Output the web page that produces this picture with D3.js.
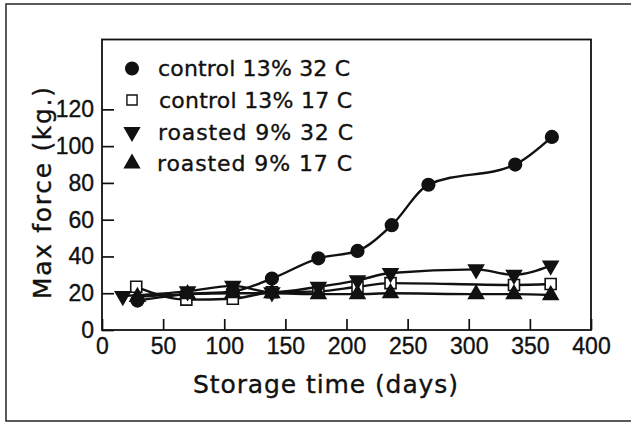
<!DOCTYPE html>
<html>
<head>
<meta charset="utf-8">
<script src="https://cdn.jsdelivr.net/npm/d3@7"></script>
<style>
  html, body { margin: 0; padding: 0; background: #fff; }
  svg { display: block; }
  text { font-family: "DejaVu Sans", sans-serif; fill: #111; stroke: #111; stroke-width: 0.35px; }
</style>
</head>
<body>
<svg id="chart" width="631" height="423"></svg>
<script>
// Storage time (days) at which each sample series was measured
const daysControl32 = [29, 69, 107, 139, 177, 209, 237, 267, 338, 368];
const daysControl17 = [28, 69, 107, 139, 177, 209, 236, 337, 367];
const daysRoasted32 = [17, 70, 107, 139, 177, 209, 236, 306, 337, 367];
const daysRoasted17 = [29, 70, 107, 139, 177, 209, 236, 306, 337, 367];

// Max force (kg.) for each series
const control32 = [16, 19.5, 21, 28, 39, 43, 57, 79, 90, 105];
const control17 = [23.5, 16.5, 17, 20.5, 21, 23.5, 25.5, 24.5, 25];
const roasted32 = [18.5, 21, 24, 20.5, 23.5, 27, 31, 33, 30, 35];
const roasted17 = [18, 19.5, 20, 20, 19.5, 19.5, 20, 19.5, 19.5, 19];

const seriesNames = ["control 13% 32 C", "control 13% 17 C", "roasted 9% 32 C", "roasted 9% 17 C"];

const xTicks = [0, 50, 100, 150, 200, 250, 300, 350, 400];
const yTicks = [0, 20, 40, 60, 80, 100, 120];

const svg = d3.select("#chart");

// outer border of the figure
svg.append("rect")
  .attr("x", 6).attr("y", 4)
  .attr("width", 640).attr("height", 417)
  .attr("fill", "none").attr("stroke", "#333").attr("stroke-width", 1.6);

const plotLeft = 102, plotRight = 591, plotTop = 39.5, plotBottom = 330;

const x = d3.scaleLinear().domain([0, 400]).range([plotLeft, plotRight]);
const y = d3.scaleLinear().domain([0, 158]).range([plotBottom, plotTop]);

// axes with inward ticks
const xAxis = svg.append("g")
  .attr("transform", `translate(0,${plotBottom})`)
  .call(d3.axisBottom(x).tickValues(xTicks).tickSize(-11).tickPadding(8).tickFormat(d3.format("d")));
const yAxis = svg.append("g")
  .attr("transform", `translate(${plotLeft},0)`)
  .call(d3.axisLeft(y).tickValues(yTicks).tickSize(-12).tickPadding(8).tickFormat(d3.format("d")));

[xAxis, yAxis].forEach(g => {
  g.select(".domain").remove();
  g.selectAll(".tick line").attr("stroke", "#111").attr("stroke-width", 1.7);
  g.selectAll(".tick text")
    .style("font-family", "'Liberation Sans', Arial, sans-serif")
    .style("font-size", "23px")
    .attr("fill", "#111")
    .attr("stroke", "#111").attr("stroke-width", 0.45);
});

// plot frame
svg.append("rect")
  .attr("x", plotLeft).attr("y", plotTop)
  .attr("width", plotRight - plotLeft).attr("height", plotBottom - plotTop)
  .attr("fill", "none").attr("stroke", "#111").attr("stroke-width", 1.8);

// axis titles
svg.append("text")
  .attr("x", 193).attr("y", 393)
  .attr("textLength", 265).attr("lengthAdjust", "spacing")
  .style("font-size", "25px")
  .text("Storage time (days)");

svg.append("text")
  .attr("transform", "translate(51,299) rotate(-90)")
  .attr("x", 0).attr("y", 0)
  .attr("textLength", 212).attr("lengthAdjust", "spacing")
  .style("font-size", "25px")
  .text("Max force (kg.)");

const series = [
  { days: daysControl32, vals: control32, sym: d3.symbolCircle, size: 125, fill: "#111", rot: 0 },
  { days: daysControl17, vals: control17, sym: d3.symbolSquare, size: 121, fill: "#fff", rot: 0 },
  { days: daysRoasted32, vals: roasted32, sym: d3.symbolTriangle, size: 95, fill: "#111", rot: 180 },
  { days: daysRoasted17, vals: roasted17, sym: d3.symbolTriangle, size: 95, fill: "#111", rot: 0 }
];

const line = d3.line()
  .x(d => x(d[0]))
  .y(d => y(d[1]))
  .curve(d3.curveMonotoneX);

series.forEach(s => {
  const pts = s.days.map((d, i) => [d, s.vals[i]]);
  svg.append("path")
    .attr("d", line(pts))
    .attr("fill", "none").attr("stroke", "#111").attr("stroke-width", 2.4);
});

series.forEach(s => {
  const pts = s.days.map((d, i) => [d, s.vals[i]]);
  svg.append("g").selectAll("path")
    .data(pts)
    .join("path")
    .attr("d", d3.symbol().type(s.sym).size(s.size))
    .attr("transform", d => `translate(${x(d[0])},${y(d[1])}) rotate(${s.rot})`)
    .attr("fill", s.fill).attr("stroke", "#111").attr("stroke-width", 1.6);
});

// legend
const legendY = [68.5, 100, 132, 163.5];
const legendTextLen = [192, 193, 195, 195];
const legendTextX = [158, 159, 158, 157];
series.forEach((s, i) => {
  svg.append("path")
    .attr("d", d3.symbol().type(s.sym).size(s.size * (i === 1 ? 0.85 : 1))())
    .attr("transform", `translate(132,${legendY[i]}) rotate(${s.rot})`)
    .attr("fill", s.fill).attr("stroke", "#111").attr("stroke-width", 1.4);
  svg.append("text")
    .attr("x", legendTextX[i]).attr("y", legendY[i] + 7.5)
    .attr("textLength", legendTextLen[i]).attr("lengthAdjust", "spacing")
    .style("font-size", "22px")
    .text(seriesNames[i]);
});
</script>
</body>
</html>
